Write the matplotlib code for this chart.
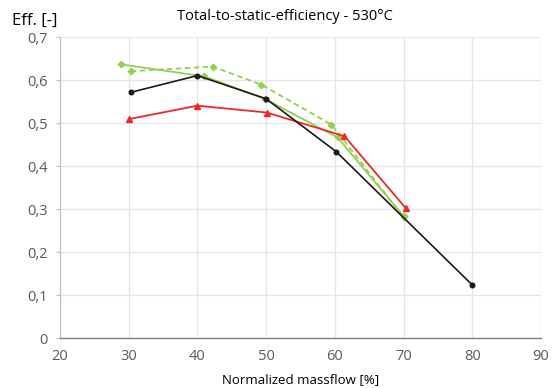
import matplotlib
matplotlib.use("Agg")
import matplotlib.pyplot as plt

# Data
black_x = [30.3, 40, 50, 60.2, 80]
black_y = [0.572, 0.611, 0.557, 0.434, 0.124]
red_x = [30.1, 40, 50.1, 61.4, 70.3]
red_y = [0.510, 0.541, 0.525, 0.470, 0.303]
green_x = [28.9, 41.0, 49.8, 60.4, 70.0]
green_y = [0.637, 0.609, 0.557, 0.467, 0.284]
greend_x = [30.3, 42.2, 49.3, 59.5, 70.0]
greend_y = [0.621, 0.632, 0.590, 0.497, 0.282]

x_ticks = [20, 30, 40, 50, 60, 70, 80, 90]
y_ticks = [0, 0.1, 0.2, 0.3, 0.4, 0.5, 0.6, 0.7]
y_ticklabels = ["0", "0,1", "0,2", "0,3", "0,4", "0,5", "0,6", "0,7"]

plt.rcParams['font.family'] = ['Open Sans', 'DejaVu Sans']

fig = plt.figure(figsize=(5.55, 3.88), dpi=100)
ax = fig.add_axes([60/555, 1-338.3/388, (541-60)/555, (338.3-37.3)/388])

green = "#92d050"
ax.plot(greend_x, greend_y, color=green, lw=1.3, ls=(0, (3, 2)), marker="D", ms=3.2, zorder=3)
ax.plot(green_x, green_y, color=green, lw=1.3, marker="D", ms=3.2, zorder=3)
ax.plot(red_x, red_y, color="#f02828", lw=1.3, marker="^", ms=4.2, zorder=4)
ax.plot(black_x, black_y, color="#1a1a1a", lw=1.2, marker="o", ms=3.3, zorder=5)

ax.set_xlim(20, 90)
ax.set_ylim(0, 0.7)
ax.set_xticks(x_ticks)
ax.set_yticks(y_ticks)
ax.set_yticklabels(y_ticklabels)
ax.grid(True, color="#e6e6e6", lw=1.0)
ax.set_axisbelow(True)
for s in ["top", "right"]:
    ax.spines[s].set_visible(False)
ax.spines["left"].set_color("#bfbfbf")
ax.spines["bottom"].set_color("#7f7f7f")
ax.spines["bottom"].set_linewidth(1.0)
ax.tick_params(axis="y", length=3, color="#bfbfbf", labelsize=10.5, labelcolor="#595959", pad=6)
ax.tick_params(axis="x", length=0, labelsize=10.5, labelcolor="#595959", pad=8)

ax.set_xlabel("Normalized massflow [%]", fontsize=9.5, color="#000000", labelpad=6)
fig.text(285/555, 1-16/388, "Total-to-static-efficiency - 530°C", ha="center", va="center", fontsize=10.5, color="#000000")
fig.text(12/555, 1-21/388, "Eff. [-]", ha="left", va="center", fontsize=12, color="#000000")

fig.savefig("out.png", dpi=100)
